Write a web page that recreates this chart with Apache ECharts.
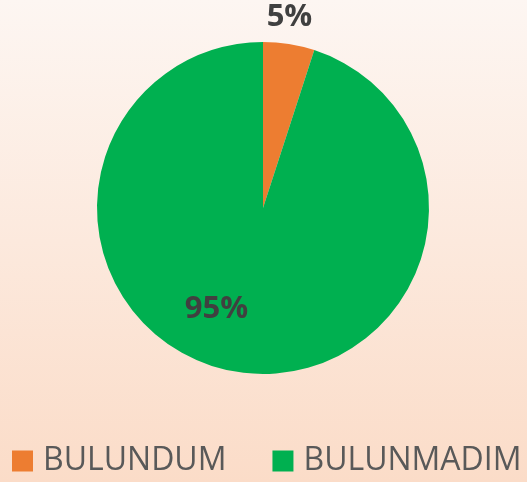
<!DOCTYPE html>
<html>
<head>
<meta charset="utf-8">
<script src="https://cdn.jsdelivr.net/npm/echarts@6/dist/echarts.min.js"></script>
<style>
    html, body {
        margin: 0;
        padding: 0;
        width: 527px;
        height: 482px;
        background: linear-gradient(to bottom, #fdf6f2 0%, #fbdcc8 100%);
    }
    #chart {
        width: 527px;
        height: 482px;
    }
</style>
</head>
<body>
<div id="chart"></div>
<script>
// 数据
var categories = ["BULUNDUM", "BULUNMADIM"];
var values = [5, 95];
var colors = ["#ed7d31", "#00b050"];
// 标签偏移（相对扇区中点）
var labelOffsets = [[13, -106], [-33, 16]];

var chart = echarts.init(document.getElementById("chart"));

chart.setOption({
    backgroundColor: "transparent",
    color: colors,
    legend: {
        bottom: 5,
        left: 12,
        width: 515,
        padding: 0,
        itemWidth: 21,
        itemHeight: 21,
        itemGap: 46,
        icon: "rect",
        textStyle: {
            fontFamily: "Open Sans",
            fontSize: 32,
            color: "#595959",
            padding: [0, 0, 0, 5]
        },
        data: categories
    },
    series: [
        {
            type: "pie",
            radius: 166,
            center: [263, 208],
            startAngle: 90,
            clockwise: true,
            label: {
                show: true,
                position: "inside",
                formatter: "{d}%",
                fontFamily: "Open Sans",
                fontSize: 31,
                fontWeight: "bold",
                color: "#404040"
            },
            labelLine: { show: false },
            emphasis: { disabled: true },
            data: categories.map(function (name, i) {
                return {
                    name: name,
                    value: values[i],
                    label: { offset: labelOffsets[i] }
                };
            })
        }
    ]
});
</script>
</body>
</html>
